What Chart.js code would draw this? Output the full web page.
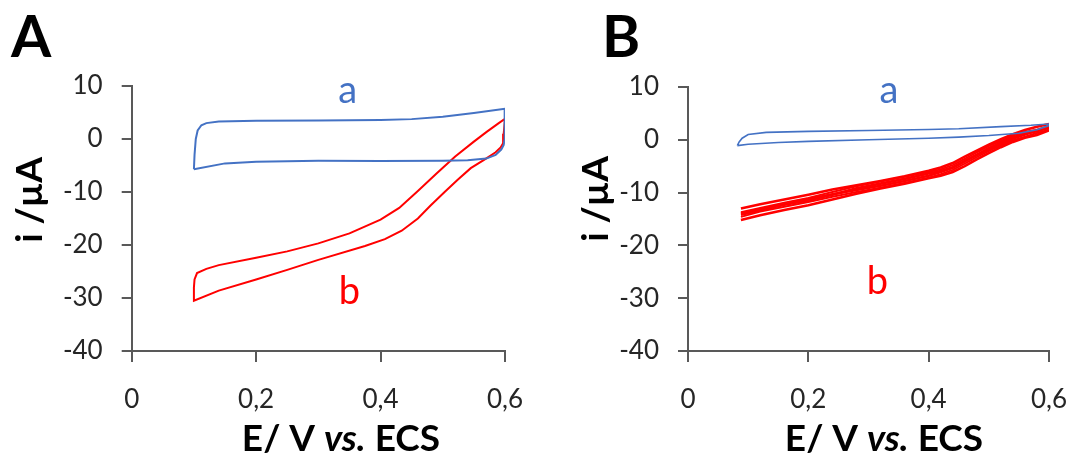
<!DOCTYPE html>
<html>
<head>
<meta charset="utf-8">
<script src="https://cdn.jsdelivr.net/npm/chart.js@4.4.1/dist/chart.umd.min.js"></script>
<style>
  html, body { margin:0; padding:0; background:#fff; }
  #wrap { position:relative; width:1089px; height:457px; overflow:hidden; }
  .panel { position:absolute; top:0; height:457px; }
</style>
</head>
<body>
<div id="wrap">
  <div class="panel" style="left:0;width:545px"><canvas id="cA"></canvas></div>
  <div class="panel" style="left:545px;width:544px"><canvas id="cB"></canvas></div>
</div>
<script>
// ---------- DATA ----------
const xTickLabels = ['0', '0,2', '0,4', '0,6'];
const yTickLabels = ['-40', '-30', '-20', '-10', '0', '10'];
const panelLetters = ['A', 'B'];
const curveNames = ['a', 'b'];
const xTitle = ['E/ V ', 'vs.', ' ECS'];
const yTitle = 'i /µA';

// Panel A, curve a (blue)
const aBlueE = [0.1, 0.101, 0.103, 0.106, 0.112, 0.12, 0.14, 0.2, 0.3, 0.4, 0.45, 0.5, 0.55, 0.6, 0.6, 0.599, 0.598, 0.594, 0.585, 0.57, 0.54, 0.5, 0.4, 0.3, 0.2, 0.15, 0.1];
const aBlueI = [-5.7, -3.0, 0.0, 1.6, 2.6, 3.0, 3.3, 3.45, 3.5, 3.6, 3.75, 4.2, 4.9, 5.7, 3.0, 0.0, -1.1, -2.0, -3.0, -3.7, -4.0, -4.1, -4.15, -4.1, -4.3, -4.6, -5.7];

// Panel A, curve b (red)
const aRedE = [0.6, 0.598, 0.597, 0.593, 0.585, 0.567, 0.545, 0.524, 0.503, 0.48, 0.46, 0.434, 0.407, 0.375, 0.3, 0.25, 0.2, 0.14, 0.1,
               0.1, 0.101, 0.105, 0.12, 0.14, 0.2, 0.25, 0.3, 0.35, 0.4, 0.43, 0.46, 0.49, 0.52, 0.55, 0.57, 0.59, 0.6];
const aRedI = [3.8, 1.0, -0.8, -1.6, -2.5, -3.9, -5.5, -7.7, -10.0, -12.6, -15.0, -17.3, -18.9, -20.2, -22.8, -24.7, -26.5, -28.6, -30.5,
               -28.0, -26.5, -25.3, -24.5, -23.8, -22.4, -21.2, -19.7, -17.8, -15.2, -13.0, -9.8, -6.5, -3.3, -0.5, 1.3, 3.0, 3.8];

// Panel B, curve a (blue)
const bBlueE = [0.082, 0.1, 0.15, 0.2, 0.3, 0.4, 0.45, 0.5, 0.55, 0.58, 0.6, 0.6, 0.57, 0.52, 0.45, 0.4, 0.3, 0.2, 0.13, 0.1, 0.09, 0.085, 0.082];
const bBlueI = [-1.1, -0.85, -0.5, -0.3, 0.0, 0.3, 0.5, 0.8, 1.25, 1.9, 2.7, 3.0, 2.75, 2.5, 2.1, 1.95, 1.75, 1.6, 1.4, 1.0, 0.3, -0.4, -1.1];

// Panel B, curve b (red, repeated cycles)
const bRedCathE = [0.6, 0.58, 0.56, 0.54, 0.52, 0.5, 0.48, 0.46, 0.44, 0.42, 0.4, 0.36, 0.32, 0.28, 0.24, 0.2, 0.16, 0.12, 0.088];
const bRedAnodE = [0.088, 0.12, 0.16, 0.2, 0.24, 0.28, 0.32, 0.36, 0.4, 0.42, 0.44, 0.46, 0.48, 0.5, 0.52, 0.54, 0.56, 0.58, 0.6];
const bRedCath1I = [1.8, 0.9, 0.4, -0.4, -1.4, -2.5, -3.7, -5.0, -6.1, -6.8, -7.3, -8.3, -9.2, -10.2, -11.3, -12.4, -13.3, -14.3, -15.2];
const bRedAnod1I = [-13.0, -12.2, -11.3, -10.4, -9.4, -8.6, -7.8, -6.9, -5.85, -5.25, -4.4, -3.2, -2.05, -0.93, 0.13, 1.05, 1.85, 2.45, 3.0];
const bRedCath2I = [2.3, 1.6, 1.2, 0.5, -0.5, -1.6, -2.8, -4.0, -5.2, -5.9, -6.4, -7.4, -8.3, -9.2, -10.4, -11.5, -12.3, -13.4, -14.2];
const bRedAnod2I = [-13.9, -13.1, -12.2, -11.2, -10.3, -9.5, -8.7, -7.8, -6.8, -6.1, -5.3, -4.1, -2.9, -1.8, -0.8, 0.2, 1.0, 1.7, 2.3];
const bRedCath3I = [2.6, 1.9, 1.5, 0.8, -0.2, -1.2, -2.4, -3.6, -4.8, -5.6, -6.1, -7.0, -7.9, -8.8, -9.9, -11.0, -11.9, -12.9, -13.7];
const bRedAnod3I = [-14.6, -13.6, -12.7, -11.8, -10.8, -9.9, -9.1, -8.2, -7.2, -6.5, -5.7, -4.5, -3.3, -2.1, -1.1, -0.1, 0.6, 1.3, 1.9];

// ---------- helpers ----------
const BLUE = '#4472C4', RED = '#FF0000', AXIS = '#595959', TXT = '#262626';
const FONT = 'Lato, "Open Sans", "DejaVu Sans", sans-serif';
function pts(xs, ys) { return xs.map((x, i) => ({ x: x, y: ys[i] })); }
function line(data, color, w) {
  return { data: data, borderColor: color, backgroundColor: color, borderWidth: w, showLine: true, pointRadius: 0, tension: 0, fill: false };
}

const textPlugin = {
  id: 'texts',
  afterDraw(chart, args, o) {
    const ctx = chart.ctx, xs = chart.scales.x, ys = chart.scales.y;
    ctx.save();
    ctx.fillStyle = '#000';
    ctx.textAlign = 'left'; ctx.textBaseline = 'alphabetic';
    ctx.font = 'bold 58px ' + FONT;
    ctx.fillText(o.letter, o.letterX, o.letterY);
    ctx.textAlign = 'center';
    ctx.font = '38px ' + FONT;
    o.labels.forEach(l => {
      ctx.fillStyle = l.color;
      ctx.fillText(l.text, xs.getPixelForValue(l.x), ys.getPixelForValue(l.y));
    });
    ctx.fillStyle = '#000';
    ctx.textAlign = 'left';
    const styles = ['bold 37px ', 'italic bold 37px ', 'bold 37px '];
    let total = 0;
    xTitle.forEach((t, i) => { ctx.font = styles[i] + FONT; total += ctx.measureText(t).width; });
    let x = o.xTitleX - total / 2;
    xTitle.forEach((t, i) => { ctx.font = styles[i] + FONT; ctx.fillText(t, x, o.xTitleY); x += ctx.measureText(t).width; });
    ctx.translate(o.yTitleX, o.yTitleY);
    ctx.rotate(-Math.PI / 2);
    ctx.textAlign = 'center';
    ctx.font = 'bold 37px ' + FONT;
    ctx.fillText(yTitle, 0, 0);
    ctx.restore();
  }
};

function makeChart(id, datasets, pad, texts) {
  return new Chart(document.getElementById(id), {
    type: 'scatter',
    data: { datasets: datasets },
    plugins: [textPlugin],
    options: {
      responsive: true, maintainAspectRatio: false, animation: false,
      devicePixelRatio: 1,
      layout: { padding: pad },
      plugins: { legend: { display: false }, tooltip: { enabled: false }, texts: texts },
      scales: {
        x: {
          type: 'linear', min: 0, max: 0.6,
          afterFit: s => { s.height = 106; },
          afterBuildTicks: s => { s.ticks = [0, 0.2, 0.4, 0.6].map(v => ({ value: v })); },
          ticks: { callback: (v, i) => xTickLabels[i], font: { family: FONT, size: 26 }, color: TXT, padding: 22, maxRotation: 0, autoSkip: false },
          grid: { drawOnChartArea: false, drawTicks: true, tickLength: 11, color: AXIS, lineWidth: 2 },
          border: { color: AXIS, width: 2 }
        },
        y: {
          type: 'linear', min: -40, max: 10,
          afterFit: s => { s.width = 100; },
          afterBuildTicks: s => { s.ticks = [-40, -30, -20, -10, 0, 10].map(v => ({ value: v })); },
          ticks: { callback: (v, i) => yTickLabels[i], font: { family: FONT, size: 26 }, color: TXT, padding: 19 },
          grid: { drawOnChartArea: false, drawTicks: true, tickLength: 10, color: AXIS, lineWidth: 2 },
          border: { color: AXIS, width: 2 }
        }
      }
    }
  });
}

makeChart('cA', [
  line(pts(aBlueE, aBlueI), BLUE, 2),
  line(pts(aRedE, aRedI), RED, 2)
], { left: 31.7, top: 86, right: 38, bottom: 0 }, {
  letter: panelLetters[0], letterX: 11, letterY: 57,
  labels: [{ text: curveNames[0], x: 0.347, y: 6.8, color: BLUE }, { text: curveNames[1], x: 0.35, y: -31.1, color: RED }],
  xTitleX: 341, xTitleY: 451, yTitleX: 42, yTitleY: 200
});

makeChart('cB', [
  line(pts(bBlueE, bBlueI), BLUE, 1.6),
  line(pts(bRedCathE, bRedCath1I), RED, 2.6),
  line(pts(bRedAnodE, bRedAnod1I), RED, 2.6),
  line(pts(bRedCathE, bRedCath2I), RED, 2.6),
  line(pts(bRedAnodE, bRedAnod2I), RED, 2.6),
  line(pts(bRedCathE, bRedCath3I), RED, 2.0),
  line(pts(bRedAnodE, bRedAnod3I), RED, 2.0)
], { left: 43, top: 87, right: 26, bottom: 0 }, {
  letter: panelLetters[1], letterX: 57, letterY: 57,
  labels: [{ text: curveNames[0], x: 0.334, y: 7.0, color: BLUE }, { text: curveNames[1], x: 0.315, y: -29.2, color: RED }],
  xTitleX: 339, xTitleY: 451, yTitleX: 63, yTitleY: 199
});
</script>
</body>
</html>
